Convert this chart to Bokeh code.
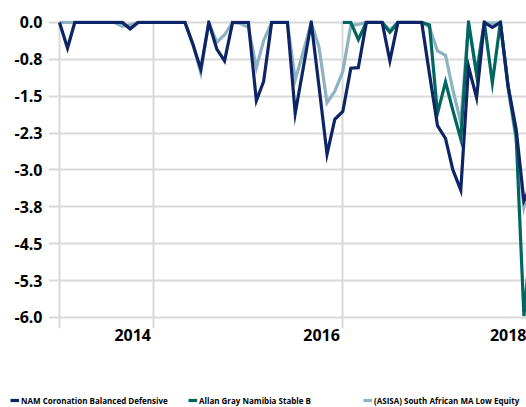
import numpy as np
import pandas as pd
from bokeh.plotting import figure
from bokeh.layouts import column
from bokeh.models import Range1d, FixedTicker, Legend, LegendItem
from bokeh.embed import file_html
from bokeh.resources import INLINE

# ---------------- data ----------------
start_month = "2013-01-01"

series_names = [
    "NAM Coronation Balanced Defensive",
    "Allan Gray Namibia Stable B",
    "(ASISA) South African MA Low Equity",
]

nam = [
    0.0, -0.52, 0.0, 0.0, 0.0, 0.0, 0.0, 0.0, 0.0, -0.13,
    0.0, 0.0, 0.0, 0.0, 0.0, 0.0, 0.0, -0.45, -0.95, 0.0,
    -0.54, -0.78, 0.0, 0.0, 0.0, -1.59, -1.2, 0.0, 0.0, 0.0,
    -1.85, -0.93, 0.0, -1.3, -2.68, -1.97, -1.81, -0.93, -0.92, 0.0,
    0.0, 0.0, -0.78, 0.0, 0.0, 0.0, 0.0, -1.05, -2.1, -2.36,
    -2.99, -3.41, -0.9, -1.53, 0.0, -0.1, 0.0, -1.3, -2.17, -3.63,
    -3.3,
]

allan_gray = [np.nan] * 36 + [
    0.0, 0.0, -0.35, 0.0, 0.0, 0.0, -0.2, 0.0, 0.0, 0.0,
    0.0, -0.05, -1.85, -1.21, -1.78, -2.37, 0.0, -1.06, 0.0, -1.23,
    0.0, -1.3, -2.3, -5.97, -4.2,
]

asisa = [
    0.0, 0.0, 0.0, 0.0, 0.0, 0.0, 0.0, 0.0, -0.08, -0.05,
    0.0, 0.0, 0.0, 0.0, 0.0, 0.0, 0.0, -0.45, -1.02, 0.0,
    -0.4, -0.25, 0.0, -0.02, -0.1, -0.92, -0.37, 0.0, 0.0, 0.0,
    -1.17, -0.6, 0.0, -0.5, -1.63, -1.4, -1.0, -0.06, -0.04, 0.0,
    0.0, 0.0, -0.15, 0.0, 0.0, 0.0, 0.0, -0.1, -0.58, -0.67,
    -1.36, -2.03, 0.0, -1.0, 0.0, -0.02, 0.0, -1.35, -2.4, -3.75,
    -3.0,
]

y_ticks = [0.0, -0.75, -1.5, -2.25, -3.0, -3.75, -4.5, -5.25, -6.0]
y_tick_labels = ["0.0", "-0.8", "-1.5", "-2.3", "-3.0", "-3.8", "-4.5", "-5.3", "-6.0"]

x_grid_dates = ["2013-01-01", "2014-01-01", "2016-01-01", "2018-01-01"]
x_tick_years = ["2014", "2016", "2018"]

colors = ["#0f2464", "#00665f", "#8db3c2"]
series_values = [nam, allan_gray, asisa]

# ---------------- build ----------------
dates = pd.date_range(start_month, periods=len(nam), freq="MS")


def ms(ts):
    return pd.Timestamp(ts).value / 1e6


x_start = dates[0] - pd.Timedelta(days=42.5)
x_end = dates[0] + pd.Timedelta(days=1805)

FONT = "Open Sans"
LW = 3.2

p = figure(
    width=526, height=390,
    x_axis_type="datetime",
    x_range=Range1d(x_start, x_end),
    y_range=Range1d(-6.224, 0.04),
    output_backend="svg", toolbar_location=None,
    min_border_left=48, min_border_right=0, min_border_top=20, min_border_bottom=62,
)
p.outline_line_color = None
p.background_fill_color = "white"
p.border_fill_color = "white"

# draw order: light series at the back, NAM on top
for i in (2, 1, 0):
    p.line(dates, series_values[i], color=colors[i], line_width=LW, line_join="miter")

# y axis
p.yaxis.ticker = FixedTicker(ticks=y_ticks)
p.yaxis.major_label_overrides = {t: l for t, l in zip(y_ticks, y_tick_labels)}
p.yaxis.axis_line_color = None
p.yaxis.major_tick_line_color = None
p.yaxis.minor_tick_line_color = None
p.yaxis.major_tick_out = 0
p.yaxis.major_tick_in = 0
p.yaxis.minor_tick_out = 0
p.yaxis.major_label_standoff = 6
p.yaxis.major_label_text_font = FONT
p.yaxis.major_label_text_font_style = "bold"
p.yaxis.major_label_text_font_size = "16px"
p.yaxis.major_label_text_color = "black"

# x axis: labels sit to the left of their year gridline
label_ticks = [ms(pd.Timestamp(f"{y}-01-01") - pd.Timedelta(days=82)) for y in x_tick_years]
p.xaxis.ticker = FixedTicker(ticks=label_ticks)
p.xaxis.major_label_overrides = {t: y for t, y in zip(label_ticks, x_tick_years)}
p.xaxis.axis_line_color = None
p.xaxis.major_tick_line_color = None
p.xaxis.minor_tick_line_color = None
p.xaxis.major_tick_out = 0
p.xaxis.major_tick_in = 0
p.xaxis.minor_tick_out = 0
p.xaxis.major_label_standoff = 0
p.xaxis.major_label_text_font = FONT
p.xaxis.major_label_text_font_style = "bold"
p.xaxis.major_label_text_font_size = "16px"
p.xaxis.major_label_text_color = "black"

# grids
p.xgrid.ticker = FixedTicker(ticks=[ms(d) for d in x_grid_dates])
p.ygrid.ticker = FixedTicker(ticks=y_ticks)
for g in (p.xgrid, p.ygrid):
    g.grid_line_color = "#d9d9d9"
    g.grid_line_width = 2

# ---------------- legend strip ----------------
leg = figure(
    width=526, height=17,
    x_range=Range1d(0, 1), y_range=Range1d(0, 1),
    x_axis_location=None, y_axis_location=None,
    output_backend="svg", toolbar_location=None,
    min_border=0,
)
leg.outline_line_color = None
leg.grid.visible = False
leg.background_fill_color = "white"
leg.border_fill_color = "white"
for fig in (p, leg):
    if "frame_align" in fig.properties():
        fig.frame_align = False

# the strip's own copies of the series lie outside its tiny range (only the key shows)
x_offsets = [10, 188, 363]
for i, vx in enumerate(x_offsets):
    r = leg.line(dates, series_values[i], color=colors[i], line_width=LW)
    lg = Legend(
        items=[LegendItem(label=series_names[i], renderers=[r])],
        location=(vx, 1),
        border_line_color=None,
        background_fill_alpha=0,
        padding=0, margin=0, spacing=0,
        glyph_width=9, glyph_height=8, label_standoff=2,
        label_height=12,
        label_text_font=FONT, label_text_font_style="bold",
        label_text_font_size="8px", label_text_color="black",
    )
    leg.add_layout(lg, "center")

page = column(p, leg, spacing=0)

open("out.html", "w").write(file_html(page, INLINE))
